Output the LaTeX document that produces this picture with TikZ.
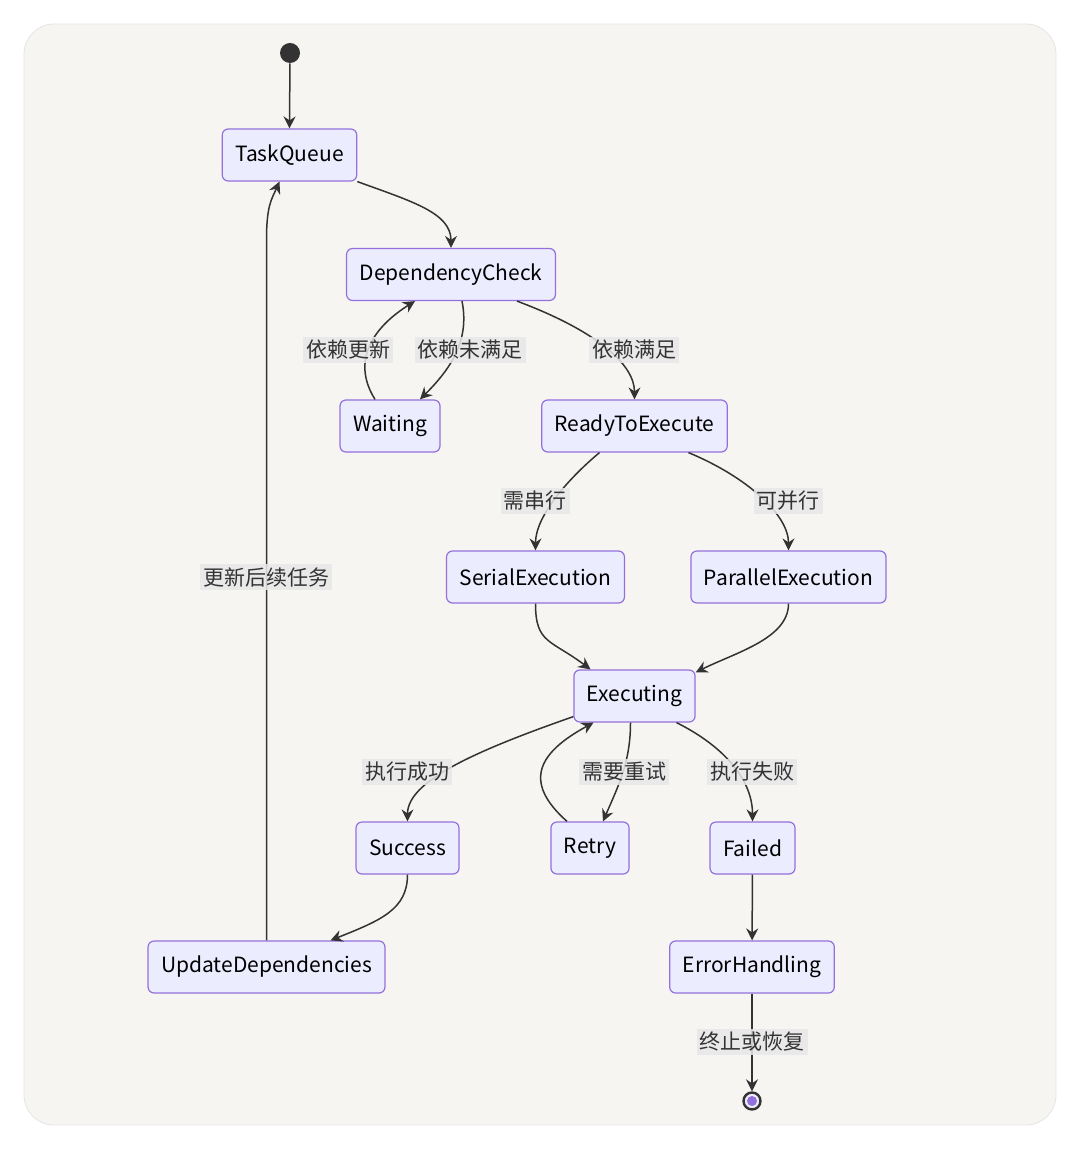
\documentclass[tikz,border=0pt]{standalone}
\usepackage{fontspec}
\setmainfont{Noto Sans CJK SC}
\usetikzlibrary{arrows.meta,calc}
\definecolor{bgfill}{HTML}{F6F5F2}
\definecolor{statefill}{HTML}{ECECFF}
\definecolor{stateline}{HTML}{9370DB}
\definecolor{edgeline}{HTML}{333333}
\definecolor{lblfill}{HTML}{E8E8E8}
\begin{document}
\begin{tikzpicture}[x=0.5pt, y=-0.5pt, font=\fontsize{10.5}{12}\selectfont,
    state/.style={draw=stateline, fill=statefill, rounded corners=3pt, line width=0.6pt,
        minimum height=26pt, inner xsep=6.5pt, text=black},
    lbl/.style={fill=lblfill, fill opacity=0.85, text opacity=1, text=edgeline, inner sep=1.5pt},
    flow/.style={draw=edgeline, line width=0.75pt, -{Stealth[length=6pt,width=6pt,inset=2pt]}}]
    \useasboundingbox (0,0) rectangle (1080,1149);
    \path[fill=bgfill, draw=black!10, rounded corners=15pt] (24,24) rectangle (1056,1125);
    %nodes
    \node[circle, fill=edgeline, inner sep=0pt, minimum size=10pt] (start) at (290,53) {};
    \node[state] (tq) at (289.5,155) {TaskQueue};
    \node[state] (dc) at (451,274.5) {DependencyCheck};
    \node[state] (wt) at (390,426) {Waiting};
    \node[state] (rd) at (634.5,426) {ReadyToExecute};
    \node[state] (se) at (535.5,577) {SerialExecution};
    \node[state] (pe) at (788.5,577) {ParallelExecution};
    \node[state] (ex) at (634.5,696) {Executing};
    \node[state] (sc) at (407.5,848) {Success};
    \node[state] (rt) at (590,848) {Retry};
    \node[state] (fl) at (752.5,848) {Failed};
    \node[state] (ud) at (266.5,967) {UpdateDependencies};
    \node[state] (eh) at (752,967) {ErrorHandling};
    \node[circle, draw=edgeline, fill=statefill, line width=1.2pt, inner sep=0pt, minimum size=8.5pt] (end) at (752,1101) {};
    \node[circle, fill=stateline, inner sep=0pt, minimum size=5pt] (endDot) at (end) {};
    %transitions
    \draw[flow] (start) -- (tq.north);
    \draw[flow] (tq.south east) .. controls +(55,20) and +(0,-35) .. (dc.north);
    \draw[flow] ($(dc.south)+(11,0)$) .. controls +(8,40) and +(30,-30) .. ($(wt.north)+(30,0)$);
    \draw[flow] ($(wt.north)+(-15,0)$) .. controls +(-25,-40) and +(-40,25) .. ($(dc.south)+(-36,0)$);
    \draw[flow] ($(dc.south)+(66,0)$) .. controls +(80,30) and +(0,-35) .. (rd.north);
    \draw[flow] ($(rd.south)+(-35,0)$) .. controls +(-30,25) and +(0,-35) .. (se.north);
    \draw[flow] ($(rd.south)+(54,0)$) .. controls +(60,25) and +(0,-35) .. (pe.north);
    \draw[flow] (se.south) .. controls +(0,40) and +(-40,-30) .. ($(ex.north)+(-44,0)$);
    \draw[flow] (pe.south) .. controls +(0,35) and +(40,-20) .. ($(ex.north east)+(0,3)$);
    \draw[flow] ($(ex.south west)+(0,-6)$) .. controls +(-100,35) and +(0,-40) .. (sc.north);
    \draw[flow] ($(ex.south)+(-4,0)$) .. controls +(0,40) and +(15,-35) .. ($(rt.north)+(13,0)$);
    \draw[flow] ($(rt.north)+(-23,0)$) .. controls +(-45,-40) and +(-55,30) .. ($(ex.south)+(-41,0)$);
    \draw[flow] ($(ex.south)+(42,0)$) .. controls +(50,25) and +(0,-40) .. (fl.north);
    \draw[flow] (fl) -- (eh);
    \draw[flow] (eh) -- (end);
    \draw[flow] (sc.south) .. controls +(0,35) and +(50,-20) .. ($(ud.north)+(64,0)$);
    \draw[flow] (ud.north) -- ++(0,-700) .. controls +(0,-35) and +(-8,18) .. ($(tq.south)+(-10,0)$);
    %labels
    \node[lbl] (l1) at (348,350) {依赖更新};
    \node[lbl] (l2) at (470,350) {依赖未满足};
    \node[lbl] (l3) at (634,350) {依赖满足};
    \node[lbl] (l4) at (535,501) {需串行};
    \node[lbl] (l5) at (788,501) {可并行};
    \node[lbl] (l6) at (266,577) {更新后续任务};
    \node[lbl] (l7) at (407,772) {执行成功};
    \node[lbl] (l8) at (624,772) {需要重试};
    \node[lbl] (l9) at (752,772) {执行失败};
    \node[lbl] (l10) at (752,1042) {终止或恢复};
\end{tikzpicture}
\end{document}
